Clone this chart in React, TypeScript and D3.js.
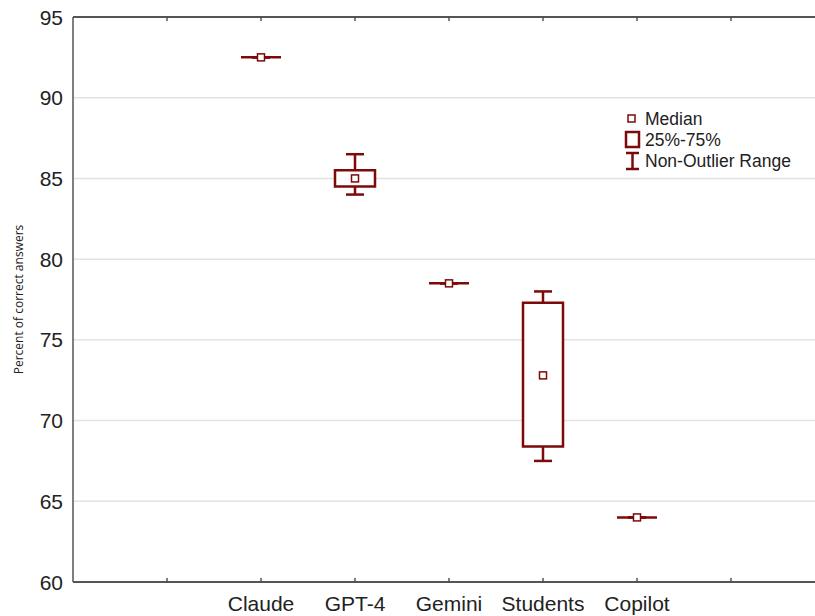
import React from "react";
import * as d3 from "d3";

const categories = ["Claude", "GPT-4", "Gemini", "Students", "Copilot"];
const medians = [92.5, 85, 78.5, 72.8, 64];
const q1 = [92.5, 84.5, 78.5, 68.4, 64];
const q3 = [92.5, 85.5, 78.5, 77.3, 64];
const whiskerLow = [92.5, 84, 78.5, 67.5, 64];
const whiskerHigh = [92.5, 86.5, 78.5, 78, 64];
const yTicks = [60, 65, 70, 75, 80, 85, 90, 95];
const xTickPositions = [1, 2, 3, 4, 5, 6, 7];
const legendItems = ["Median", "25%-75%", "Non-Outlier Range"];

const W = 815;
const H = 616;
const RED = "#7d0a0a";
const AXIS = "#555";

export default function App() {
  const x = d3.scaleLinear().domain([0, 8]).range([73, 825]);
  const y = d3.scaleLinear().domain([60, 95]).range([582, 17]);
  const boxHalf = 20;
  const capHalf = 9;
  const med = 3.5;

  return (
    <div style={{ position: "absolute", left: 0, top: 0 }}>
      <svg width={W} height={H} style={{ display: "block", background: "#fff" }}>
        {yTicks
          .filter((t) => t !== 60 && t !== 95)
          .map((t) => (
            <line key={"g" + t} x1={x(0)} x2={W} y1={y(t)} y2={y(t)} stroke="#e2e2e2" strokeWidth={1.5} />
          ))}
        <line x1={x(0)} x2={x(0)} y1={y(95)} y2={y(60)} stroke={AXIS} strokeWidth={1.5} />
        <line x1={x(0)} x2={W} y1={y(60)} y2={y(60)} stroke={AXIS} strokeWidth={1.8} />
        <line x1={x(0)} x2={W} y1={y(95)} y2={y(95)} stroke={AXIS} strokeWidth={1.8} />
        {xTickPositions.map((p) => (
          <g key={"t" + p}>
            <line x1={x(p)} x2={x(p)} y1={y(60)} y2={y(60) - 4} stroke={AXIS} strokeWidth={1.5} />
            <line x1={x(p)} x2={x(p)} y1={y(95)} y2={y(95) + 4} stroke={AXIS} strokeWidth={1.5} />
          </g>
        ))}
        {yTicks.map((t) => (
          <text
            key={"yl" + t}
            x={63}
            y={y(t)}
            dy="0.36em"
            textAnchor="end"
            fontFamily="Liberation Sans, Arial, sans-serif"
            fontSize={21}
            fill="#222"
          >
            {t}
          </text>
        ))}
        {categories.map((c, i) => (
          <text
            key={"xl" + c}
            x={x(i + 2)}
            y={611}
            textAnchor="middle"
            fontFamily="Liberation Sans, Arial, sans-serif"
            fontSize={21}
            fill="#222"
          >
            {c}
          </text>
        ))}
        <text
          transform={`translate(23, ${(y(95) + y(60)) / 2}) rotate(-90)`}
          textAnchor="middle"
          fontFamily="Open Sans, Noto Sans, sans-serif"
          fontSize={12}
          fill="#222"
        >
          Percent of correct answers
        </text>
        {categories.map((c, i) => {
          const cx = x(i + 2);
          const yTop = y(q3[i]);
          const yBot = y(q1[i]);
          const boxPath = `M${cx - boxHalf},${yTop}H${cx + boxHalf}V${yBot}H${cx - boxHalf}Z`;
          return (
            <g key={"b" + c} stroke={RED} fill="none">
              <line x1={cx} x2={cx} y1={yTop} y2={y(whiskerHigh[i])} strokeWidth={2.5} />
              <line x1={cx} x2={cx} y1={yBot} y2={y(whiskerLow[i])} strokeWidth={2.5} />
              <line x1={cx - capHalf} x2={cx + capHalf} y1={y(whiskerHigh[i])} y2={y(whiskerHigh[i])} strokeWidth={2.5} />
              <line x1={cx - capHalf} x2={cx + capHalf} y1={y(whiskerLow[i])} y2={y(whiskerLow[i])} strokeWidth={2.5} />
              <path d={boxPath} fill="#fff" strokeWidth={2.5} />
              <rect x={cx - med} y={y(medians[i]) - med} width={med * 2} height={med * 2} fill="#fff" strokeWidth={1.5} />
            </g>
          );
        })}
        <g stroke={RED} fill="none">
          <rect x={628} y={115} width={7} height={7} fill="#fff" strokeWidth={1.5} />
          <rect x={626} y={132} width={13} height={15} fill="#fff" strokeWidth={2.5} />
          <line x1={626} x2={639} y1={153} y2={153} strokeWidth={2.5} />
          <line x1={626} x2={639} y1={169} y2={169} strokeWidth={2.5} />
          <line x1={632.5} x2={632.5} y1={153} y2={169} strokeWidth={2.5} />
        </g>
        {legendItems.map((t, i) => (
          <text
            key={"lg" + t}
            x={645}
            y={125 + i * 21}
            fontFamily="Liberation Sans, Arial, sans-serif"
            fontSize={17.5}
            fill="#222"
          >
            {t}
          </text>
        ))}
      </svg>
    </div>
  );
}
